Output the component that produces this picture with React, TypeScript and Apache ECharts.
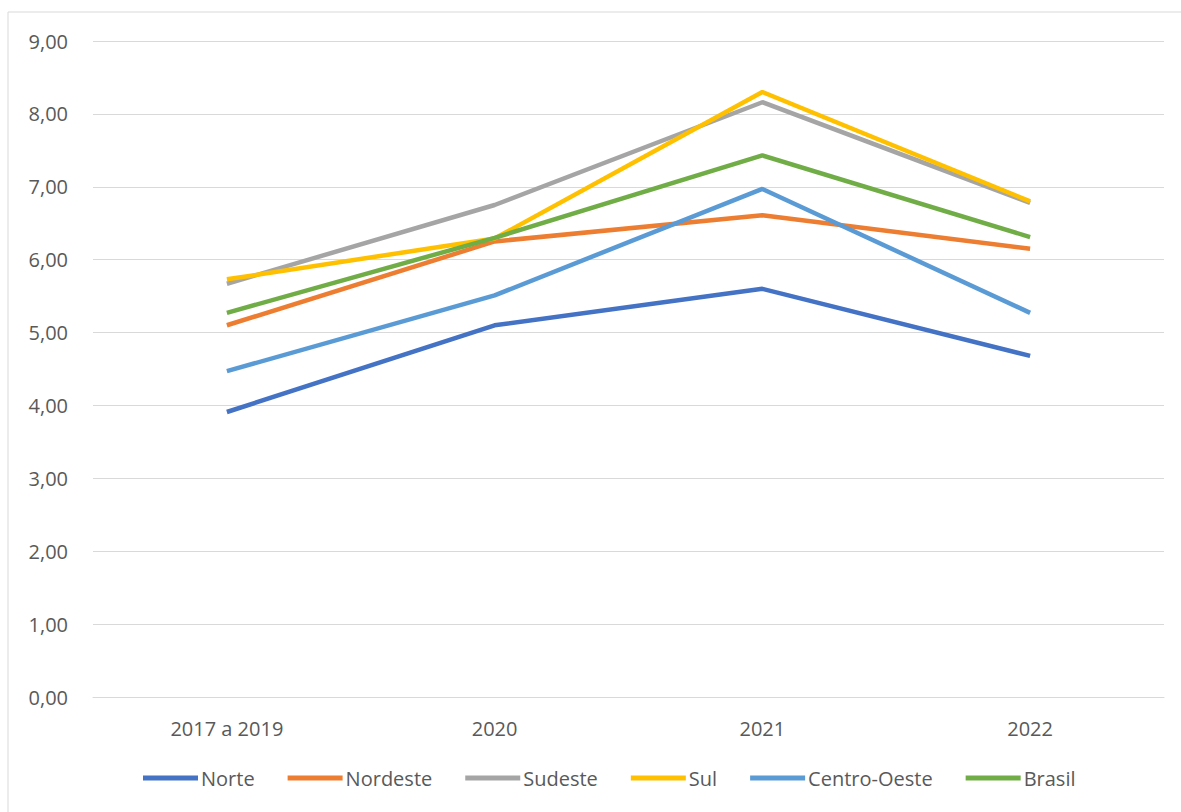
import React, { useEffect, useRef } from "react";
import * as echarts from "echarts";

const categories = ["2017 a 2019", "2020", "2021", "2022"];
const norte = [3.91, 5.1, 5.6, 4.68];
const nordeste = [5.1, 6.25, 6.61, 6.15];
const sudeste = [5.67, 6.75, 8.16, 6.78];
const sul = [5.73, 6.29, 8.3, 6.8];
const centroOeste = [4.47, 5.51, 6.97, 5.27];
const brasil = [5.27, 6.3, 7.43, 6.31];

const seriesDefs = [
  { name: "Norte", data: norte, color: "#4472C4" },
  { name: "Nordeste", data: nordeste, color: "#ED7D31" },
  { name: "Sudeste", data: sudeste, color: "#A5A5A5" },
  { name: "Sul", data: sul, color: "#FFC000" },
  { name: "Centro-Oeste", data: centroOeste, color: "#5B9BD5" },
  { name: "Brasil", data: brasil, color: "#70AD47" },
];

export default function App() {
  const ref = useRef<HTMLDivElement>(null);
  useEffect(() => {
    document.body.style.margin = "0";
    const chart = echarts.init(ref.current!, null, { renderer: "svg" });
    const font = "'Open Sans', 'Noto Sans', sans-serif";
    chart.setOption({
      animation: false,
      backgroundColor: "#ffffff",
      textStyle: { fontFamily: font },
      graphic: [
        {
          type: "rect",
          shape: { x: 8, y: 12, width: 1200, height: 820 },
          style: { fill: "none", stroke: "#d9d9d9", lineWidth: 1 },
          silent: true,
        },
      ],
      grid: { left: 93, right: 17, top: 41, bottom: 115 },
      legend: {
        top: 763,
        left: 138,
        itemWidth: 55,
        itemHeight: 5,
        itemGap: 33,
        icon: "rect",
        textStyle: { color: "#595959", fontSize: 20, fontFamily: font, padding: [0, 0, 0, -2] },
        data: seriesDefs.map((s) => s.name),
      },
      xAxis: {
        type: "category",
        data: categories,
        boundaryGap: true,
        axisLine: { show: true, lineStyle: { color: "#d9d9d9" } },
        axisTick: { show: false },
        axisLabel: { color: "#595959", fontSize: 20, margin: 21, fontFamily: font },
      },
      yAxis: {
        type: "value",
        min: 0,
        max: 9,
        interval: 1,
        axisLine: { show: false },
        axisTick: { show: false },
        splitLine: { lineStyle: { color: "#d9d9d9" } },
        axisLabel: {
          color: "#595959",
          fontSize: 20,
          margin: 25,
          fontFamily: font,
          formatter: (v: number) => v.toFixed(2).replace(".", ","),
        },
      },
      series: seriesDefs.map((s) => ({
        name: s.name,
        type: "line",
        data: s.data,
        showSymbol: false,
        symbol: "none",
        color: s.color,
        lineStyle: { width: 4.5, color: s.color },
      })),
    });
    return () => chart.dispose();
  }, []);
  return <div ref={ref} style={{ width: 1181, height: 812 }} />;
}
